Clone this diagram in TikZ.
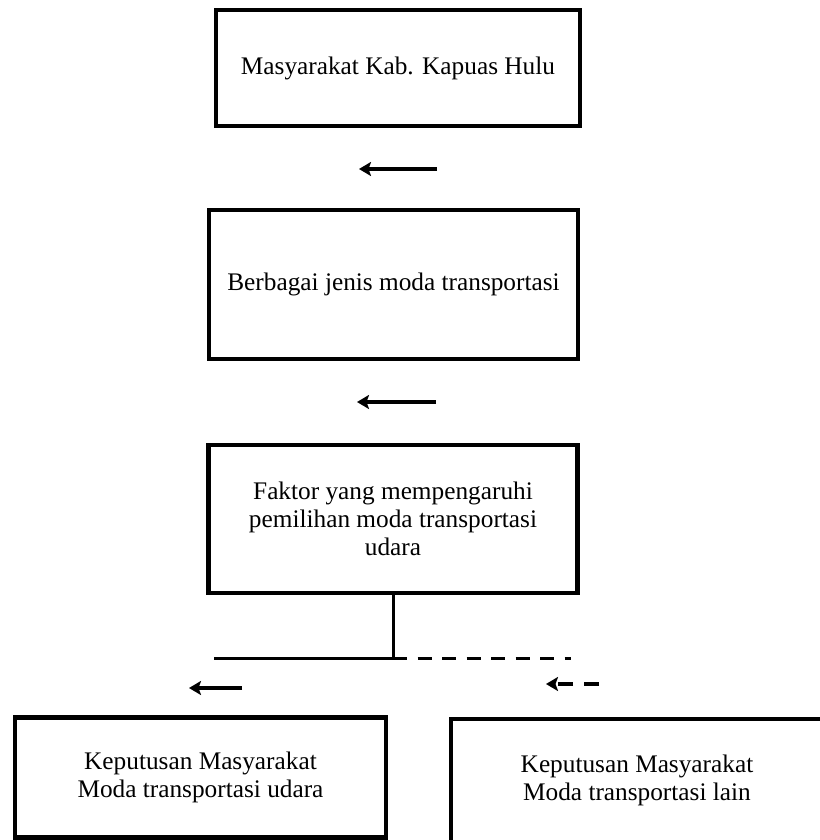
\documentclass[tikz,border=0pt]{standalone}
\usepackage{fontspec}
\setmainfont{Liberation Serif}
\usetikzlibrary{arrows.meta}
\begin{document}
\begin{tikzpicture}[x=1pt,y=-1pt,
  txt/.style={inner sep=0pt, align=center, font=\fontsize{25.3}{28}\selectfont},
  box/.style={txt, draw, line width=4.8pt},
  arr/.style={line width=3.2pt, -{Stealth[length=12pt,width=14pt,inset=2.5pt]}},
  link/.style={line width=3pt}]
\useasboundingbox (0,0) rectangle (819,840);
% boxes
\node[box, minimum width=364pt, minimum height=116pt] (b1) at (398,68) {Masyarakat Kab. Kapuas Hulu};
\node[box, minimum width=369pt, minimum height=149pt] (b2) at (393.5,284.5) {Berbagai jenis moda transportasi};
\node[box, minimum width=369pt, minimum height=148pt] (b3) at (393,519) {Faktor yang mempengaruhi\\pemilihan moda transportasi\\udara};
\node[box, minimum width=371pt, minimum height=120pt] (b4) at (200.5,777.5) {Keputusan Masyarakat\\Moda transportasi udara};
\node[draw, line width=4.8pt, minimum width=374pt, minimum height=136pt, inner sep=0pt] (b5) at (638,787) {};
\node[txt] (t5) at (637,780) {Keputusan Masyarakat\\Moda transportasi lain};
% free arrows
\coordinate (a1s) at (437,169); \coordinate (a1e) at (359,169);
\coordinate (a2s) at (436,402); \coordinate (a2e) at (357,402);
\coordinate (a3s) at (242,688); \coordinate (a3e) at (189,688);
\coordinate (a4s) at (599,684); \coordinate (a4e) at (546,684);
\draw[arr] (a1s) -- (a1e);
\draw[arr] (a2s) -- (a2e);
\draw[arr] (a3s) -- (a3e);
\draw[arr, dash pattern=on 15pt off 11pt] (a4s) -- (a4e);
% branch lines
\coordinate (lvl) at (0,658);
\coordinate (jn) at (b3.south |- lvl);
\coordinate (hl) at (214,658);
\coordinate (hr) at (571,658);
\draw[link] (b3.south) -- (jn);
\draw[link] (hl) -- (jn);
\draw[link, dash pattern=on 14pt off 10.5pt] (jn) -- (hr);
\end{tikzpicture}
\end{document}
